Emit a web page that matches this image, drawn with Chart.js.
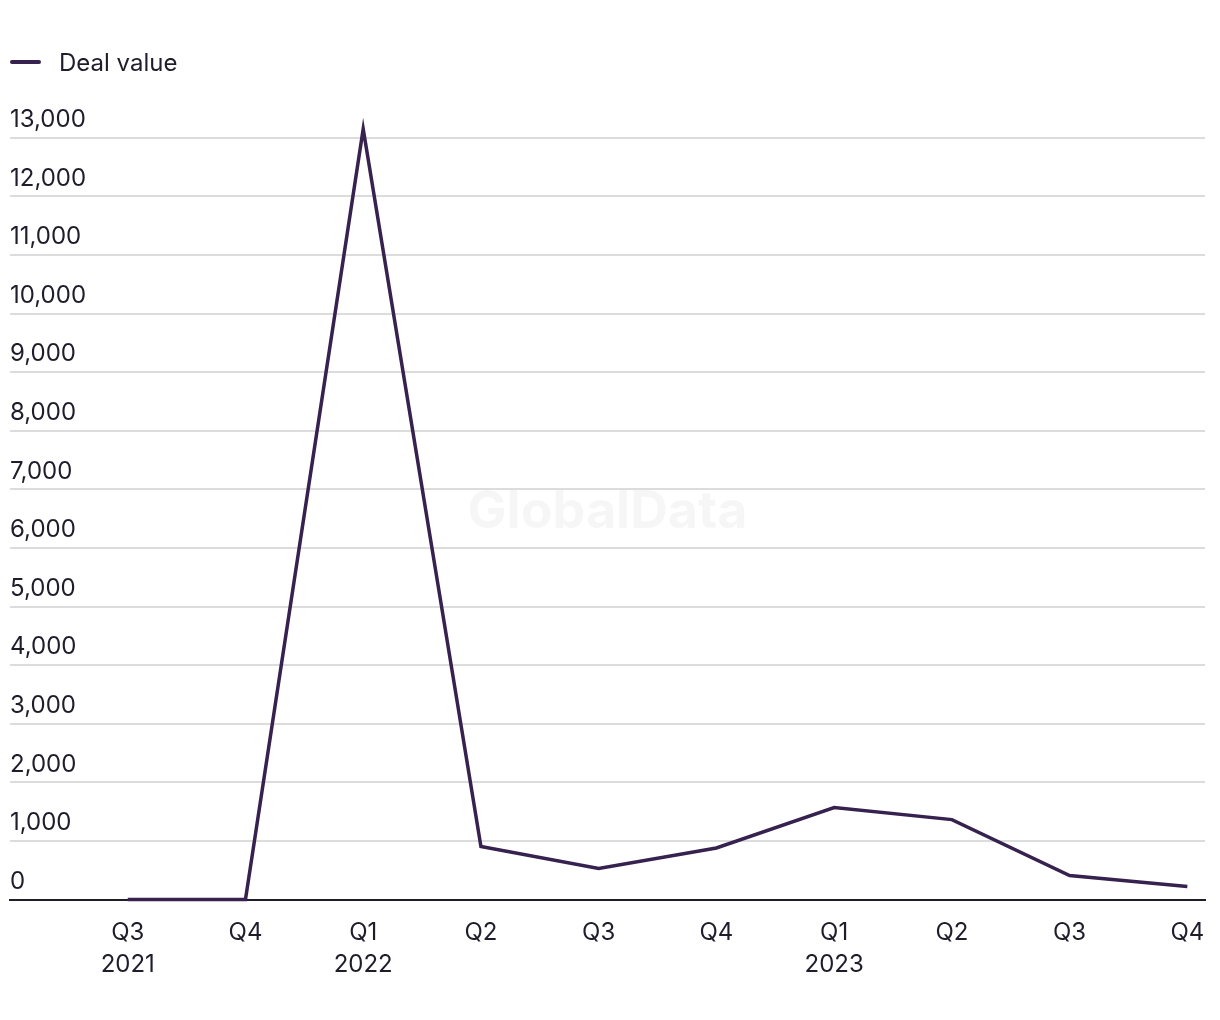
<!DOCTYPE html>
<html>
<head>
<meta charset="utf-8">
<script src="https://cdn.jsdelivr.net/npm/chart.js@4.4.1/dist/chart.umd.min.js"></script>
<style>
    html, body { margin: 0; padding: 0; background: #fff; }
    .wrap { position: relative; width: 1220px; height: 1020px; }
    /* legend drawn as html so the line/text gap matches */
    .legend {
        position: absolute; left: 10px; top: 47px;
        display: flex; align-items: center; height: 30px;
        font-family: 'Inter', 'Open Sans', sans-serif; font-size: 24px; color: #1f1d2b;
    }
    .legend .swatch { width: 31px; height: 4px; background: #36214f; border-radius: 2px; margin-right: 18px; }
</style>
</head>
<body>
<div class="wrap">
    <canvas id="chart"></canvas>
    <div class="legend"><span class="swatch"></span><span>Deal value</span></div>
</div>
<script>
const quarters = ['Q3', 'Q4', 'Q1', 'Q2', 'Q3', 'Q4', 'Q1', 'Q2', 'Q3', 'Q4'];
const years = ['2021', '', '2022', '', '', '', '2023', '', '', ''];
const dealValue = [0, 0, 13150, 905, 530, 880, 1570, 1365, 410, 225];
const yTicks = [0, 1000, 2000, 3000, 4000, 5000, 6000, 7000, 8000, 9000, 10000, 11000, 12000, 13000];

const FONT = "'Inter', 'Open Sans', sans-serif";
const LINE = '#36214f';
const TEXT = '#1f1d2b';

// faint watermark in the middle of the plot
const watermark = {
    id: 'watermark',
    beforeDatasetsDraw(chart) {
        const { ctx, chartArea } = chart;
        ctx.save();
        ctx.font = `bold 52px ${FONT}`;
        ctx.fillStyle = 'rgba(0,0,0,0.035)';
        ctx.textAlign = 'center';
        ctx.textBaseline = 'middle';
        ctx.fillText('GlobalData', (chartArea.left + chartArea.right) / 2, (chartArea.top + chartArea.bottom) / 2);
        ctx.restore();
    }
};

new Chart(document.getElementById('chart'), {
    type: 'line',
    data: {
        datasets: [{
            label: 'Deal value',
            data: dealValue.map((v, i) => ({ x: i, y: v })),
            borderColor: LINE,
            backgroundColor: LINE,
            borderWidth: 3.5,
            pointRadius: 0,
            tension: 0,
            clip: false
        }]
    },
    options: {
        responsive: true,
        maintainAspectRatio: false,
        animation: false,
        layout: { padding: { left: 10, right: 15, top: 126, bottom: 22 } },
        plugins: { legend: { display: false }, tooltip: { enabled: false } },
        scales: {
            x: {
                type: 'linear',
                min: -1,
                max: 9.15,
                afterBuildTicks: s => { s.ticks = quarters.map((q, i) => ({ value: i })); },
                // don't let the last label push the plot area inwards
                afterFit: s => { s.paddingRight = 0; s.paddingLeft = 0; },
                grid: { display: false, drawTicks: false },
                border: { display: true, color: TEXT, width: 2 },
                ticks: {
                    padding: 18,
                    maxRotation: 0,
                    autoSkip: false,
                    color: TEXT,
                    font: { family: FONT, size: 24, lineHeight: 1.3 },
                    callback: v => {
                        const i = Math.round(v);
                        return years[i] ? [quarters[i], years[i]] : quarters[i];
                    }
                }
            },
            y: {
                min: 0,
                max: 13200,
                afterBuildTicks: s => { s.ticks = yTicks.map(v => ({ value: v })); },
                border: { display: false },
                grid: { color: '#dcdcdc', lineWidth: 2, drawTicks: false },
                ticks: {
                    mirror: true,
                    padding: 0,
                    labelOffset: -18,
                    color: TEXT,
                    font: { family: FONT, size: 24 },
                    callback: v => v.toLocaleString('en-US')
                }
            }
        }
    },
    plugins: [watermark]
});
</script>
</body>
</html>
